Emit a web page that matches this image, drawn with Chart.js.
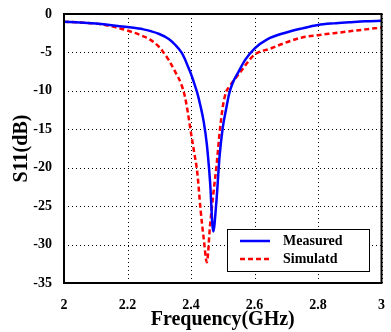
<!DOCTYPE html>
<html>
<head>
<meta charset="utf-8">
<script src="https://cdn.jsdelivr.net/npm/chart.js@4"></script>
<style>
  html, body { margin: 0; padding: 0; background: #fff; }
  #wrap { width: 391px; height: 332px; }
</style>
</head>
<body>
<div id="wrap"><canvas id="s11-chart" width="391" height="332"></canvas></div>
<script>
// Data
const freqMeasured = [2.0, 2.05, 2.1, 2.15, 2.2, 2.25, 2.3, 2.33, 2.35, 2.37, 2.38, 2.39, 2.4, 2.41, 2.42, 2.43, 2.44, 2.45, 2.46, 2.47, 2.48, 2.49, 2.5, 2.51, 2.52, 2.53, 2.55, 2.57, 2.6, 2.64, 2.7, 2.75, 2.8, 2.85, 2.9, 2.95, 3.0];
const s11Measured = [-1.0, -1.1, -1.25, -1.45, -1.7, -2.0, -2.6, -3.25, -4.0, -5.0, -5.8, -6.8, -7.8, -9.0, -10.3, -12.0, -14.0, -17.0, -21.8, -28.3, -24.4, -18.5, -14.8, -12.5, -10.4, -9.1, -7.5, -6.0, -4.5, -3.3, -2.4, -1.87, -1.43, -1.22, -1.08, -0.95, -0.87];

const freqSimulated = [2.0, 2.05, 2.1, 2.15, 2.2, 2.25, 2.27, 2.3, 2.31, 2.33, 2.35, 2.37, 2.38, 2.39, 2.4, 2.41, 2.42, 2.43, 2.44, 2.45, 2.46, 2.47, 2.48, 2.49, 2.5, 2.51, 2.52, 2.53, 2.55, 2.6, 2.65, 2.7, 2.75, 2.8, 2.85, 2.9, 2.95, 3.0];
const s11Simulated = [-1.0, -1.1, -1.25, -1.6, -2.15, -2.9, -3.3, -4.3, -4.8, -6.0, -7.5, -9.2, -10.6, -12.8, -15.5, -18.0, -20.7, -25.4, -29.2, -32.3, -27.5, -23.5, -19.9, -15.5, -12.1, -10.2, -9.5, -8.9, -7.85, -5.3, -4.5, -3.7, -3.05, -2.75, -2.5, -2.25, -2.0, -1.75];

const xTicks = [2, 2.2, 2.4, 2.6, 2.8, 3];
const yTicks = [0, -5, -10, -15, -20, -25, -30, -35];

const serif = '"Liberation Serif", "Times New Roman", serif';

function toPoints(xs, ys) {
    return xs.map((x, i) => ({ x: x, y: ys[i] }));
}

// Dotted grid at the tick positions, drawn under the curves
const gridPlugin = {
    id: 'dottedGrid',
    beforeDatasetsDraw(chart) {
        const { ctx, chartArea: a, scales } = chart;
        ctx.save();
        ctx.strokeStyle = '#000';
        ctx.lineWidth = 1;
        ctx.setLineDash([1, 3]);
        ctx.beginPath();
        xTicks.forEach(v => {
            const x = Math.round(scales.x.getPixelForValue(v)) + 0.5;
            ctx.moveTo(x, a.top);
            ctx.lineTo(x, a.bottom);
        });
        yTicks.forEach(v => {
            const y = Math.round(scales.y.getPixelForValue(v)) + 0.5;
            ctx.moveTo(a.left, y);
            ctx.lineTo(a.right, y);
        });
        ctx.stroke();
        ctx.restore();
    }
};

// Frame around the plot area + legend box inside it
const framePlugin = {
    id: 'frame',
    afterDraw(chart) {
        const { ctx, chartArea: a } = chart;
        ctx.save();
        ctx.strokeStyle = '#000';
        ctx.lineWidth = 2;
        ctx.strokeRect(a.left, a.top, a.right - a.left, a.bottom - a.top);

        // legend
        const bx = 227, by = 229, bw = 142, bh = 42;
        ctx.fillStyle = '#fff';
        ctx.fillRect(bx, by, bw, bh);
        ctx.lineWidth = 1;
        ctx.strokeStyle = '#000';
        ctx.strokeRect(bx + 0.5, by + 0.5, bw, bh);
        ctx.font = 'bold 14px ' + serif;
        ctx.textBaseline = 'middle';
        chart.data.datasets.forEach((ds, i) => {
            const y = by + 12 + i * 18;
            ctx.strokeStyle = ds.borderColor;
            ctx.lineWidth = ds.borderWidth;
            ctx.setLineDash(ds.borderDash || []);
            ctx.beginPath();
            ctx.moveTo(bx + 13, y);
            ctx.lineTo(bx + 43, y);
            ctx.stroke();
            ctx.setLineDash([]);
            ctx.fillStyle = '#000';
            ctx.fillText(ds.label, bx + 56, y);
        });
        ctx.restore();
    }
};

const ctx = document.getElementById('s11-chart').getContext('2d');
const chart = new Chart(ctx, {
    type: 'line',
    data: {
        datasets: [{
            label: 'Measured',
            data: toPoints(freqMeasured, s11Measured),
            borderColor: '#0000ff',
            borderWidth: 2.5,
            pointRadius: 0,
            cubicInterpolationMode: 'monotone',
            fill: false
        }, {
            label: 'Simulatd',
            data: toPoints(freqSimulated, s11Simulated),
            borderColor: '#ff0000',
            borderWidth: 2.5,
            borderDash: [5, 3],
            pointRadius: 0,
            cubicInterpolationMode: 'monotone',
            fill: false
        }]
    },
    options: {
        responsive: false,
        animation: false,
        layout: { padding: { top: 14, right: 6, left: 0, bottom: 0 } },
        plugins: { legend: { display: false }, tooltip: { enabled: false } },
        scales: {
            x: {
                type: 'linear',
                min: 2, max: 3,
                afterBuildTicks: s => { s.ticks = xTicks.map(v => ({ value: v })); },
                afterFit: s => { s.height = 49; },
                border: { display: false },
                grid: { display: false },
                ticks: {
                    color: '#000', padding: 6,
                    font: { family: serif, size: 14, weight: 'bold' },
                    callback: v => String(v)
                },
                title: {
                    display: true, text: 'Frequency(GHz)', color: '#000',
                    font: { family: serif, size: 20, weight: 'bold' },
                    padding: { top: 4, bottom: 0 }
                }
            },
            y: {
                min: -35, max: 0,
                afterBuildTicks: s => { s.ticks = yTicks.map(v => ({ value: v })); },
                afterFit: s => { s.width = 64; },
                border: { display: false },
                grid: { display: false },
                ticks: {
                    color: '#000', padding: 4,
                    font: { family: serif, size: 14, weight: 'bold' }
                },
                title: {
                    display: true, text: 'S11(dB)', color: '#000',
                    font: { family: serif, size: 20, weight: 'bold' },
                    padding: { top: 10, bottom: 0 }
                }
            }
        }
    },
    plugins: [gridPlugin, framePlugin]
});
</script>
</body>
</html>
